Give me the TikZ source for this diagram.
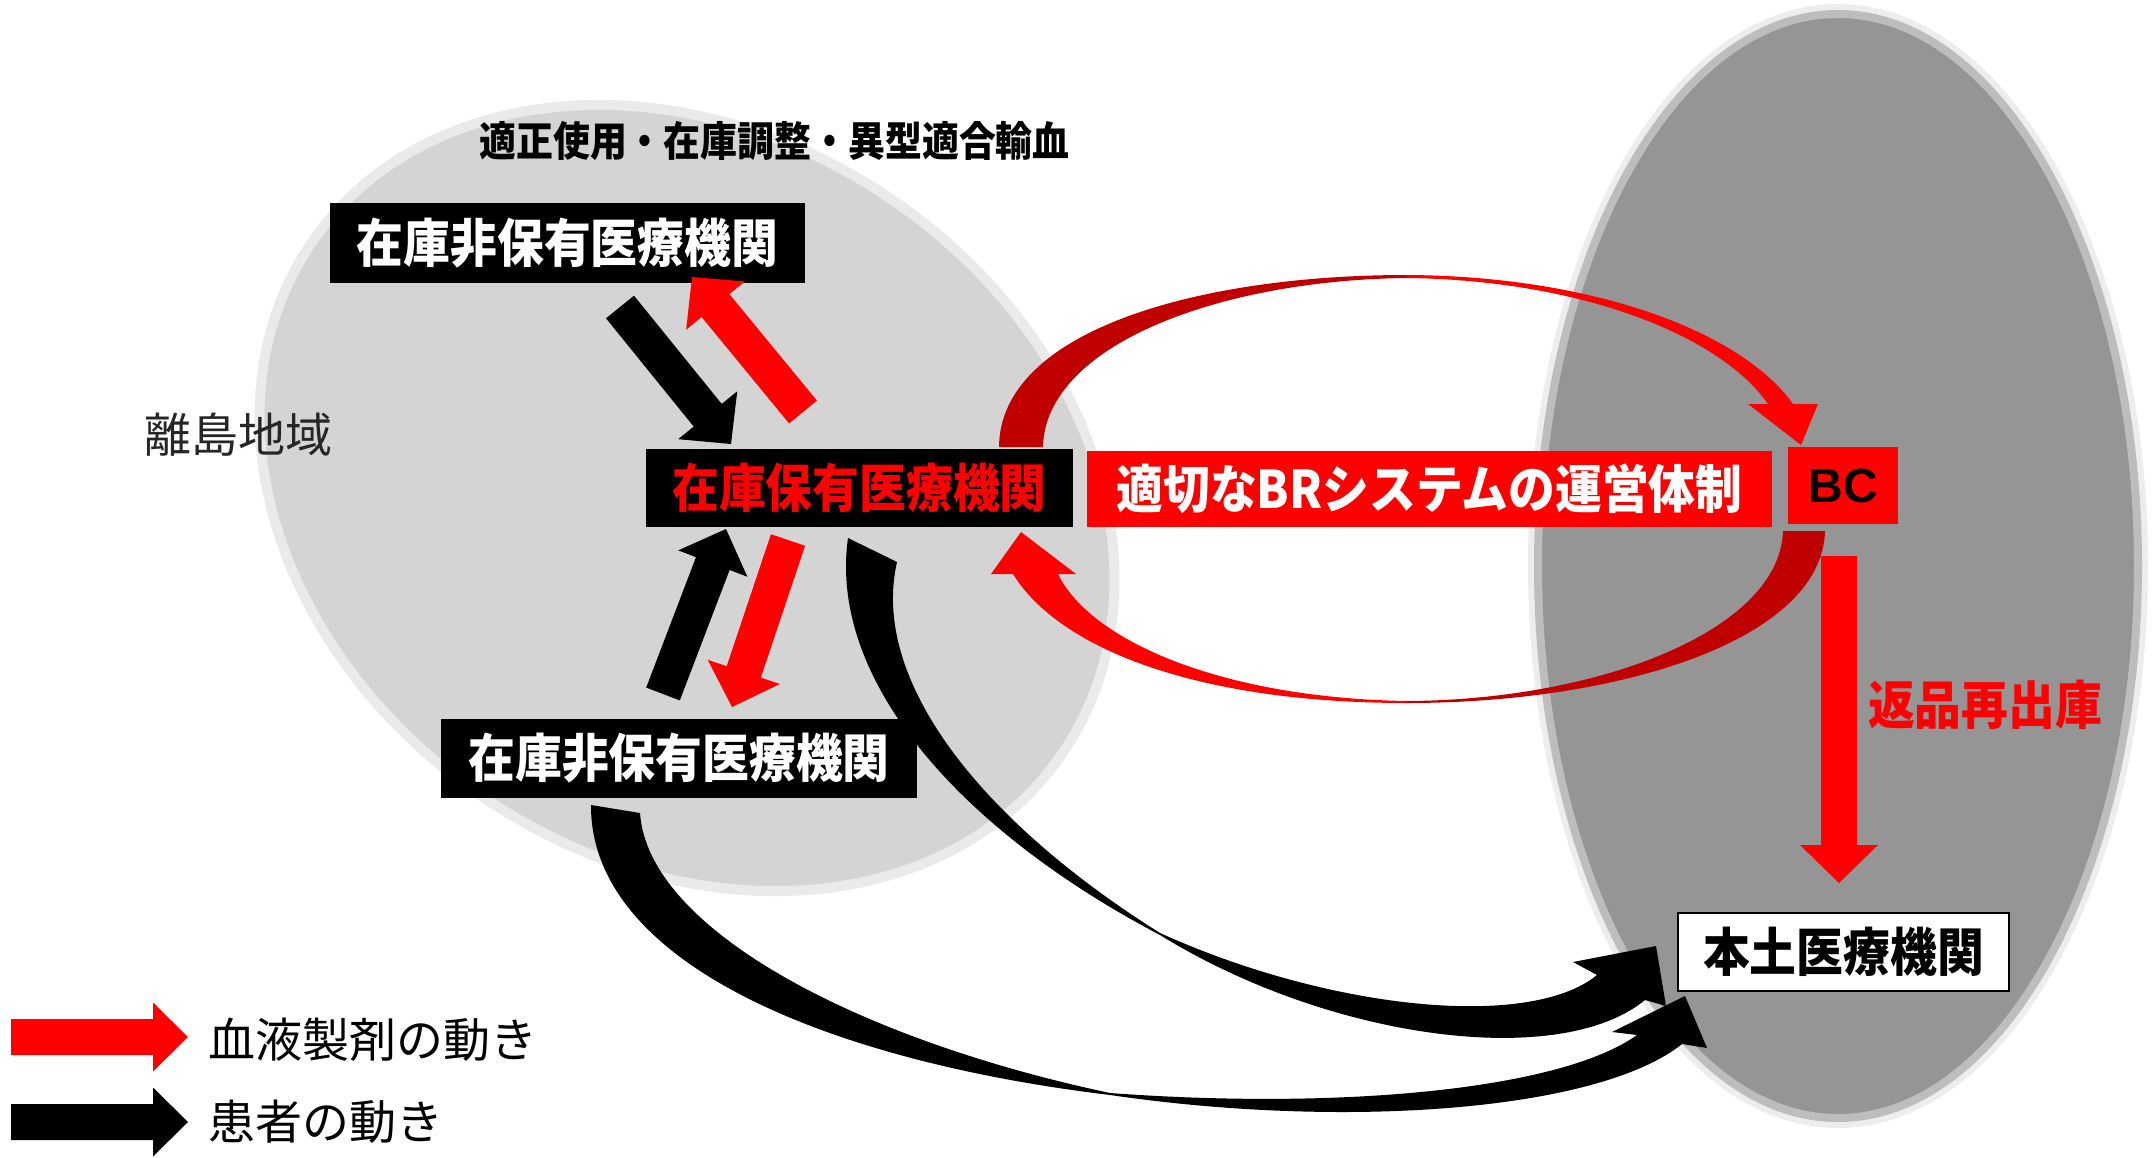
\documentclass[tikz,border=0pt]{standalone}
\usepackage{fontspec}
\usepackage{graphicx}
\setmainfont{Noto Sans CJK JP}
\newfontfamily\arialfont{Liberation Sans}
\usetikzlibrary{calc}
\definecolor{lgray}{HTML}{D4D4D4}
\definecolor{lrim}{HTML}{EAEAEA}
\definecolor{dgray}{HTML}{959595}
\definecolor{drim}{HTML}{BDBDBD}
\definecolor{bred}{HTML}{FF0000}
\definecolor{dred}{HTML}{C00000}
\newcommand{\cond}[1]{\scalebox{0.9}[1]{#1}}
% block arrow: #1 colour, #2 tail, #3 tip, #4 half shaft, #5 half head, #6 head length
\newcommand{\blockarr}[6]{%
  \coordinate (ba-b) at ($(#3)!#6!(#2)$);
  \fill[#1] ($(#2)!#4!90:(#3)$) -- ($(ba-b)!#4!90:(#3)$) -- ($(ba-b)!#5!90:(#3)$) -- (#3)
    -- ($(ba-b)!#5!-90:(#3)$) -- ($(ba-b)!#4!-90:(#3)$) -- ($(#2)!#4!-90:(#3)$) -- cycle;}
\tikzset{
  box/.style={inner sep=0pt, font=\bfseries\fontsize{52}{54}\selectfont},
  blackbox/.style={box, fill=black, text=white},
  plain/.style={inner sep=0pt, font=\fontsize{47}{50}\selectfont},
}
\begin{document}
\begin{tikzpicture}[x=1pt,y=-1pt]
\useasboundingbox (0,0) rectangle (2154,1158);
\fill[white] (0,0) rectangle (2154,1158);
% regions
\draw[draw=lrim, line width=10pt, fill=lgray, shift={(687,498)}, rotate=-34] (0,0) ellipse [x radius=454pt, y radius=362pt];
\draw[draw=black!7, line width=20pt, shift={(1838,566)}] (0,0) ellipse [x radius=300pt, y radius=552pt];
\draw[draw=drim, line width=8pt, fill=dgray, shift={(1838,566)}] (0,0) ellipse [x radius=300pt, y radius=552pt];
% black curved arrows (patients)
\fill[black] (848,538) .. controls (828,680) and (960,830) .. (1160,935)
   .. controls (1330,1040) and (1560,1070) .. (1645,1000)
   -- (1666,1006) -- (1656,946) -- (1573,962) -- (1597,975)
   .. controls (1530,1030) and (1330,1010) .. (1160,933)
   .. controls (980,820) and (870,680) .. (897,562) -- cycle;
\fill[black] (591,805) .. controls (590,960) and (820,1060) .. (1110,1095)
   .. controls (1350,1130) and (1600,1110) .. (1682,1044)
   -- (1707,1048) -- (1685,996) -- (1612,1032) -- (1637,1035)
   .. controls (1560,1090) and (1340,1110) .. (1110,1093)
   .. controls (860,1040) and (648,930) .. (640,813) -- cycle;
% red loop
\fill[dred] (999,447) .. controls (1000,330) and (1200,275) .. (1407,275) -- (1407,278)
   .. controls (1220,280) and (1045,345) .. (1043,447) -- cycle;
\fill[bred] (1407,275) .. controls (1590,276) and (1740,330) .. (1793,404) -- (1818,404)
   -- (1801,445) -- (1748,404) -- (1768,404) .. controls (1720,335) and (1580,280) .. (1407,278) -- cycle;
\fill[dred] (1825,531) .. controls (1822,640) and (1620,703) .. (1407,703) -- (1407,701)
   .. controls (1600,700) and (1780,630) .. (1783,531) -- cycle;
\fill[bred] (1407,703) .. controls (1200,703) and (1060,650) .. (1013,574) -- (991,574)
   -- (1021,532) -- (1076,574) -- (1058,574) .. controls (1090,640) and (1220,698) .. (1407,701) -- cycle;
% boxes
\node[blackbox, minimum width=475pt, minimum height=80pt] (A) at (567.5,243) {\cond{在庫非保有医療機関}};
\node[box, fill=black, text=bred, minimum width=427pt, minimum height=78pt] (B) at (859.5,488) {\cond{在庫保有医療機関}};
\node[box, fill=bred, text=white, minimum width=685pt, minimum height=76pt] (C) at (1429.5,489) {\cond{適切なBRシステムの運営体制}};
\node[box, fill=bred, text=black, minimum width=110pt, minimum height=77pt, font=\arialfont\bfseries\fontsize{48}{50}\selectfont] (D) at (1843,485.5) {BC};
\node[box, fill=white, draw=black, line width=2pt, text=black, minimum width=331pt, minimum height=78pt] (E) at (1843.5,952) {\cond{本土医療機関}};
\node[blackbox, minimum width=476pt, minimum height=79pt] (F) at (679,758.5) {\cond{在庫非保有医療機関}};
% straight arrows
\coordinate (a1) at (620,307); \coordinate (a2) at (731,444);
\coordinate (r1) at (803,412); \coordinate (r2) at (692,277);
\coordinate (a3) at (663,694); \coordinate (a4) at (726,529);
\coordinate (r3) at (788,540); \coordinate (r4) at (732,707);
\coordinate (v1) at (1839,556); \coordinate (v2) at (1839,883);
\blockarr{black}{a1}{a2}{18pt}{38pt}{37pt}
\blockarr{bred}{r1}{r2}{18pt}{38pt}{37pt}
\blockarr{black}{a3}{a4}{18pt}{37pt}{37pt}
\blockarr{bred}{r3}{r4}{18pt}{38pt}{37pt}
\blockarr{bred}{v1}{v2}{18pt}{39pt}{38pt}
% labels
\node[inner sep=0pt, font=\bfseries\fontsize{41}{44}\selectfont] (lbl) at (774.5,141) {\cond{適正使用・在庫調整・異型適合輸血}};
\node[plain, text=black!85] (isl) at (238,435) {離島地域};
\node[box, text=bred] (rt) at (1985,705) {\cond{返品再出庫}};
% legend
\coordinate (l1) at (11,1037); \coordinate (l2) at (188,1037);
\coordinate (l3) at (11,1122); \coordinate (l4) at (188,1122);
\blockarr{bred}{l1}{l2}{18pt}{34.5pt}{35pt}
\blockarr{black}{l3}{l4}{18pt}{34.5pt}{35pt}
\node[plain, anchor=west] (lg1) at (208,1040) {血液製剤の動き};
\node[plain, anchor=west] (lg2) at (208,1122) {患者の動き};
\end{tikzpicture}
\end{document}
